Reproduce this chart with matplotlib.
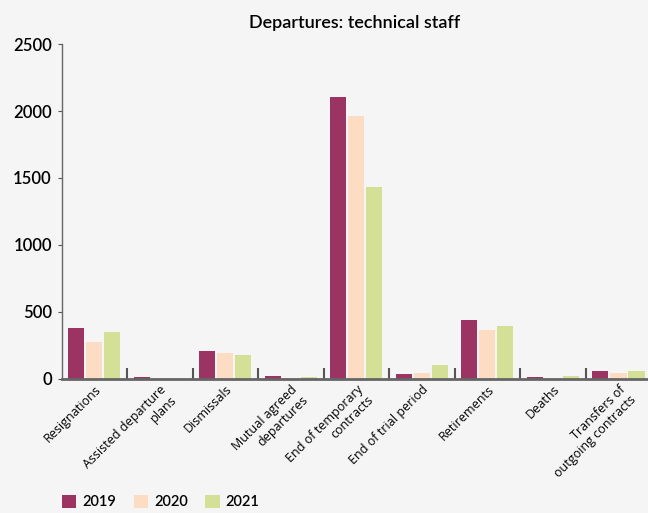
import matplotlib
matplotlib.use("Agg")
import matplotlib.pyplot as plt
import numpy as np
from matplotlib.patches import Patch

categories = [
    "Resignations",
    "Assisted departure\nplans",
    "Dismissals",
    "Mutual agreed\ndepartures",
    "End of temporary\ncontracts",
    "End of trial period",
    "Retirements",
    "Deaths",
    "Transfers of\noutgoing contracts",
]
years = ["2019", "2020", "2021"]
values_2019 = [375, 10, 205, 18, 2105, 38, 440, 15, 60]
values_2020 = [275, 0, 190, 8, 1965, 45, 360, 8, 45]
values_2021 = [350, 0, 175, 15, 1435, 105, 390, 22, 60]
colors = ["#9b3462", "#fddcc4", "#d3e096"]

bg = "#f5f5f5"
fig = plt.figure(figsize=(6.48, 5.13), dpi=100, facecolor=bg)
ax = fig.add_axes([0.095, 0.262, 0.91, 0.652], facecolor=bg)

x = np.arange(len(categories))
width = 0.245
step = 0.275
series = [values_2019, values_2020, values_2021]
for i, (vals, col) in enumerate(zip(series, colors)):
    ax.bar(x + (i - 1) * step, vals, width=width, color=col, zorder=2)

ax.set_xlim(-0.5, len(categories) - 0.5)
ax.set_ylim(0, 2500)
ax.set_yticks([0, 500, 1000, 1500, 2000, 2500])
ax.tick_params(axis="y", length=3, width=0.8, color="#555555", labelsize=12, pad=4)
for lbl in ax.get_yticklabels():
    lbl.set_fontfamily("Lato")
    lbl.set_fontweight("semibold")

# category labels at group centres, tick marks at group boundaries
ax.set_xticks(x)
ax.set_xticklabels(categories, rotation=45, ha="right", rotation_mode="anchor",
                   fontsize=9, family="Open Sans", multialignment="right")
ax.tick_params(axis="x", length=0, pad=3)
ax.set_xticks(np.arange(len(categories) - 1) + 0.5, minor=True)
ax.tick_params(axis="x", which="minor", direction="in", length=8, width=1.5, color="#555555")

for s in ["top", "right"]:
    ax.spines[s].set_visible(False)
ax.spines["bottom"].set_color("#666666")
ax.spines["bottom"].set_linewidth(2)
ax.spines["left"].set_color("#666666")
ax.spines["left"].set_linewidth(1)

fig.text(0.548, 0.955, "Departures: technical staff", ha="center", va="center",
         fontsize=13, family="Lato", fontweight="semibold")

handles = [Patch(facecolor=c, edgecolor="none") for c in colors]
leg = fig.legend(handles, years, loc="lower left", bbox_to_anchor=(0.075, -0.018),
                 ncol=3, frameon=False, handlelength=1.0, handleheight=1.0,
                 handletextpad=0.4, columnspacing=1.2,
                 prop={"family": "Lato", "weight": "semibold", "size": 10.5})

fig.savefig("out.png", dpi=100, facecolor=bg)
